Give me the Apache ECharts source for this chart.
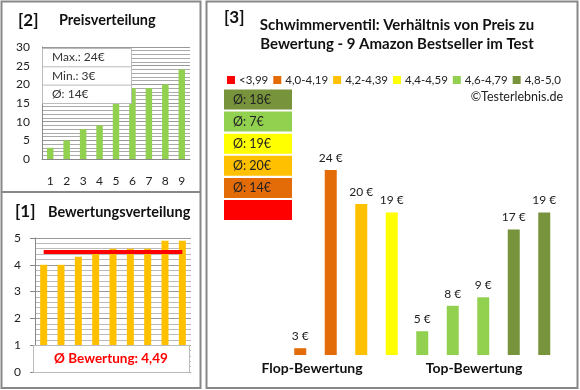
<!DOCTYPE html>
<html><head><meta charset="utf-8">
<script src="https://cdn.jsdelivr.net/npm/echarts@6/dist/echarts.min.js"></script>
<style>html,body{margin:0;padding:0;background:#fff}#c{width:580px;height:390px}</style>
</head><body><div id="c"></div>
<script>
// ---- data ----
const priceCats = ['1','2','3','4','5','6','7','8','9'];
const priceValues = [3,5,8,9,15,19,19,20,24];
const priceStats = ['Max.: 24€','Min.: 3€','Ø: 14€'];
const ratingCats = ['1','2','3','4','5','6','7','8','9'];
const ratingValues = [4.0,4.0,4.3,4.5,4.6,4.6,4.6,4.9,4.9];
const ratingAvg = 4.49;
const ratingAvgLabel = 'Ø Bewertung: 4,49';
const bucketNames = ['<3,99','4,0-4,19','4,2-4,39','4,4-4,59','4,6-4,79','4,8-5,0'];
const bucketColors = ['#FF0000','#E36C09','#FFC000','#FFFF00','#92D050','#77933C'];
const mainCats = ['p1','p2','p3','p4','p5','p6','p7','p8','p9'];
const mainPrices = [3,24,20,19,5,8,9,17,19];
const mainBucket = [1,1,2,3,4,4,4,5,5];
const boxLabels = ['Ø: 18€','Ø: 7€','Ø: 19€','Ø: 20€','Ø: 14€',''];
const boxBucket = [5,4,3,2,1,0];
const groupLabels = ['Flop-Bewertung','Top-Bewertung'];

const FONT = 'Lato, "Open Sans", sans-serif';
const chart = echarts.init(document.getElementById('c'), null, {renderer:'canvas'});

const bucketSeries = bucketNames.map((name, b) => ({
  type:'bar', name, xAxisIndex:2, yAxisIndex:2, barWidth:12, barGap:'-100%',
  itemStyle:{color:bucketColors[b]},
  label:{show:true, position:'top', distance:6, fontFamily:FONT, fontSize:12, color:'#222',
         formatter:p => p.value + ' €'},
  data: mainPrices.map((v,i) => mainBucket[i] === b ? v : '-')
}));

const graphics = [];
// panel borders
graphics.push({type:'rect', shape:{x:1.5,y:1.5,width:199,height:386.5}, style:{fill:null, stroke:'#888', lineWidth:2}, z:1});
graphics.push({type:'line', shape:{x1:1,y1:192,x2:201,y2:192}, style:{stroke:'#888', lineWidth:2}, z:1});
graphics.push({type:'rect', shape:{x:206.5,y:1.5,width:371,height:386.5}, style:{fill:null, stroke:'#888', lineWidth:2}, z:1});
// titles
const tstyle = (t,x,y,size,align) => ({type:'text', x, y, style:{text:t, font:'bold '+size+'px '+FONT, fill:'#111', textAlign:align||'left', textVerticalAlign:'middle'}, z:5});
graphics.push(tstyle('[2]',18,21,17));
graphics.push(tstyle('Preisverteilung',59,20,14.5));
graphics.push(tstyle('[1]',15,212,17));
graphics.push(tstyle('Bewertungsverteilung',48,212,14.5));
graphics.push(tstyle('[3]',224,18,17));
graphics.push(tstyle('Schwimmerventil: Verhältnis von Preis zu',397,25,15,'center'));
graphics.push(tstyle('Bewertung - 9 Amazon Bestseller im Test',397,44,15,'center'));
graphics.push(tstyle(groupLabels[0],312,368,14,'center'));
graphics.push(tstyle(groupLabels[1],474,368,14,'center'));
graphics.push({type:'text', x:563, y:97, style:{text:'©Testerlebnis.de', font:'12.5px '+FONT, fill:'#222', textAlign:'right', textVerticalAlign:'middle'}, z:5});
// price stats box
graphics.push({type:'rect', shape:{x:42.5,y:48.5,width:89,height:55}, style:{fill:'#fff', stroke:'#bbb', lineWidth:1}, z:10});
priceStats.forEach((s,i) => {
  if (i>0) graphics.push({type:'line', shape:{x1:42,y1:48.5+i*18.3,x2:131,y2:48.5+i*18.3}, style:{stroke:'#bbb', lineWidth:1}, z:11});
  graphics.push({type:'text', x:52, y:57.5+i*18.3, style:{text:s, font:'12px '+FONT, fill:'#333', textVerticalAlign:'middle'}, z:11});
});
// rating avg box
graphics.push({type:'rect', shape:{x:33.5,y:345.5,width:156,height:27}, style:{fill:'#fff', stroke:'#bbb', lineWidth:1}, z:10});
graphics.push({type:'text', x:111, y:359, style:{text:ratingAvgLabel, font:'bold 13.5px '+FONT, fill:'#FF0000', textAlign:'center', textVerticalAlign:'middle'}, z:11});
// bucket avg boxes
boxLabels.forEach((s,i) => {
  const y = 89.5 + i*22.1;
  graphics.push({type:'rect', shape:{x:224,y:y,width:68,height:20}, style:{fill:bucketColors[boxBucket[i]]}, z:5});
  graphics.push({type:'text', x:233, y:y+10, style:{text:s, font:'12.5px '+FONT, fill:'#222', textVerticalAlign:'middle'}, z:6});
});

chart.setOption({
  animation:false,
  backgroundColor:'#fff',
  textStyle:{fontFamily:FONT},
  legend:{left:222, top:69, width:400, itemWidth:8, itemHeight:8, itemGap:5, icon:'rect',
          textStyle:{fontFamily:FONT, fontSize:11.5, color:'#222', padding:[0,0,0,-1]},
          data:bucketNames, selectedMode:false},
  grid:[
    {left:42, top:47, width:148, height:112},
    {left:35, top:238, width:156, height:134},
    {left:285, top:153, width:274.5, height:202}
  ],
  xAxis:[
    {type:'category', gridIndex:0, data:priceCats, axisLine:{lineStyle:{color:'#888'}}, axisTick:{show:false},
     axisLabel:{margin:16, fontSize:12, color:'#222', fontFamily:FONT}},
    {type:'category', gridIndex:1, data:ratingCats, axisLine:{show:false}, axisTick:{show:false}, axisLabel:{show:false}},
    {type:'category', gridIndex:2, data:mainCats, axisLine:{show:false}, axisTick:{show:false}, axisLabel:{show:false}}
  ],
  yAxis:[
    {type:'value', gridIndex:0, min:0, max:30, interval:5, minorTick:{show:false, splitNumber:5},
     minorSplitLine:{show:true, lineStyle:{color:'#aaa', width:1}},
     splitLine:{lineStyle:{color:'#999'}}, axisLine:{show:true, lineStyle:{color:'#888'}}, axisTick:{show:false},
     axisLabel:{margin:12, fontSize:12, color:'#222', fontFamily:FONT}},
    {type:'value', gridIndex:1, min:0, max:5, interval:1, minorTick:{show:false, splitNumber:5},
     minorSplitLine:{show:true, lineStyle:{color:'#bbb', width:1}},
     splitLine:{lineStyle:{color:'#999'}}, axisLine:{show:true, lineStyle:{color:'#888'}},
     axisTick:{show:true, length:5, lineStyle:{color:'#888'}},
     axisLabel:{margin:14, fontSize:12, color:'#222', fontFamily:FONT}},
    {type:'value', gridIndex:2, min:2.2, max:26, show:false, splitLine:{show:false}}
  ],
  series:[
    {type:'bar', xAxisIndex:0, yAxisIndex:0, barWidth:6.5, itemStyle:{color:'#92D050'}, data:priceValues},
    {type:'bar', xAxisIndex:1, yAxisIndex:1, barWidth:7, itemStyle:{color:'#FFC000'}, data:ratingValues,
     markLine:{silent:true, symbol:'none', label:{show:false}, lineStyle:{color:'#FF0000', width:4, type:'solid'},
       data:[[{coord:[0, ratingAvg]},{coord:[8, ratingAvg]}]]}},
    ...bucketSeries
  ],
  graphic:graphics
});
</script></body></html>
